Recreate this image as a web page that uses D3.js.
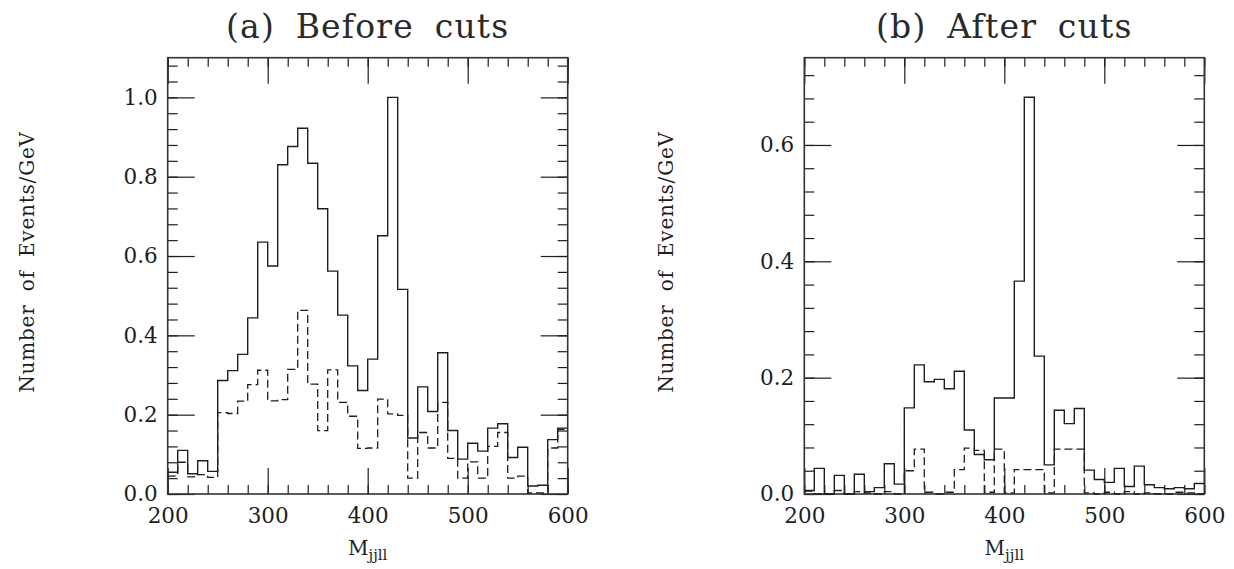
<!DOCTYPE html>
<html><head><meta charset="utf-8">
<script src="https://cdn.jsdelivr.net/npm/d3@7"></script>
<style>
body{margin:0;background:#fff;}
svg text{font-family:"DejaVu Serif",serif;fill:#1e1e1e;}
</style></head><body>
<svg id="c" width="1234" height="569"></svg>
<script>
// bin lower edges (GeV), 10 GeV wide
const binStarts = [200,210,220,230,240,250,260,270,280,290,300,310,320,330,340,350,360,370,380,390,
                   400,410,420,430,440,450,460,470,480,490,500,510,520,530,540,550,560,570,580,590];
const binWidth = 10;

const beforeSolid = [0.055,0.110,0.051,0.084,0.057,0.286,0.311,0.352,0.444,0.635,
                     0.575,0.830,0.876,0.922,0.834,0.719,0.562,0.451,0.323,0.261,
                     0.340,0.651,1.000,0.516,0.141,0.270,0.208,0.356,0.160,0.088,
                     0.128,0.108,0.166,0.177,0.092,0.118,0.020,0.022,0.137,0.166];
const beforeDashed = [0.045,0.080,0.043,0.049,0.042,0.205,0.203,0.234,0.276,0.312,
                      0.235,0.238,0.314,0.463,0.277,0.160,0.313,0.231,0.196,0.115,
                      0.116,0.239,0.202,0.198,0.040,0.155,0.116,0.231,0.090,0.040,
                      0.081,0.040,0.120,0.155,0.040,0.045,0.003,0.003,0.116,0.163];
const afterSolid = [0.006,0.044,0.000,0.032,0.000,0.034,0.004,0.011,0.052,0.017,
                    0.148,0.222,0.193,0.197,0.181,0.211,0.110,0.068,0.059,0.165,
                    0.165,0.366,0.682,0.237,0.050,0.144,0.121,0.147,0.041,0.025,
                    0.020,0.044,0.013,0.048,0.016,0.011,0.009,0.011,0.009,0.018];
const afterDashed = [0.005,0.000,0.000,0.006,0.000,0.004,0.002,0.000,0.004,0.000,
                     0.040,0.077,0.003,0.000,0.003,0.042,0.079,0.075,0.003,0.077,
                     0.002,0.042,0.042,0.042,0.002,0.077,0.077,0.077,0.002,0.000,
                     0.003,0.000,0.004,0.000,0.002,0.000,0.000,0.003,0.002,0.000];

const xMajorTicks = [200,300,400,500,600];
const titles = ["(a) Before cuts","(b) After cuts"];
const yLabel = "Number of Events/GeV";

const panels = [
  {title:titles[0], solid:beforeSolid, dashed:beforeDashed, yMax:1.1, yMajor:[0,0.2,0.4,0.6,0.8,1.0], left:167.7, labelX:27},
  {title:titles[1], solid:afterSolid, dashed:afterDashed, yMax:0.75, yMajor:[0,0.2,0.4,0.6], left:804.3, labelX:666}
];

const svg = d3.select("#c");
const plotTop = 57.7, plotBottom = 494, plotWidth = 400;
const ink = "#1e1e1e";

panels.forEach(p => {
  const x = d3.scaleLinear().domain([200,600]).range([p.left, p.left+plotWidth]);
  const y = d3.scaleLinear().domain([0,p.yMax]).range([plotBottom, plotTop]);
  const g = svg.append("g");

  const xMinor = d3.range(200, 601, 20);
  const yMinor = d3.range(0, p.yMax+1e-9, 0.04);

  function styleAxis(sel){
    sel.select(".domain").remove();
    sel.selectAll(".tick line").attr("stroke", ink).attr("stroke-width", 1.2);
  }
  // bottom
  g.append("g").attr("transform",`translate(0,${plotBottom})`)
    .call(d3.axisBottom(x).tickValues(xMinor).tickSize(-9).tickFormat("")).call(styleAxis);
  g.append("g").attr("transform",`translate(0,${plotBottom})`)
    .call(d3.axisBottom(x).tickValues(xMajorTicks).tickSize(-26).tickFormat(d3.format("d")))
    .call(styleAxis)
    .call(s=>s.selectAll(".tick text").attr("y",14).attr("dy","0.71em").attr("font-size",21.5).style("font-family","DejaVu Serif"));
  // top
  g.append("g").attr("transform",`translate(0,${plotTop})`)
    .call(d3.axisTop(x).tickValues(xMinor).tickSize(-9).tickFormat("")).call(styleAxis);
  g.append("g").attr("transform",`translate(0,${plotTop})`)
    .call(d3.axisTop(x).tickValues(xMajorTicks).tickSize(-26).tickFormat("")).call(styleAxis);
  // left
  g.append("g").attr("transform",`translate(${p.left},0)`)
    .call(d3.axisLeft(y).tickValues(yMinor).tickSize(-10).tickFormat("")).call(styleAxis);
  g.append("g").attr("transform",`translate(${p.left},0)`)
    .call(d3.axisLeft(y).tickValues(p.yMajor).tickSize(-27).tickFormat(d3.format(".1f")))
    .call(styleAxis)
    .call(s=>s.selectAll(".tick text").attr("x",-10).attr("font-size",21.5).style("font-family","DejaVu Serif"));
  // right
  g.append("g").attr("transform",`translate(${p.left+plotWidth},0)`)
    .call(d3.axisRight(y).tickValues(yMinor).tickSize(-10).tickFormat("")).call(styleAxis);
  g.append("g").attr("transform",`translate(${p.left+plotWidth},0)`)
    .call(d3.axisRight(y).tickValues(p.yMajor).tickSize(-27).tickFormat("")).call(styleAxis);

  // frame
  g.append("rect").attr("x",p.left).attr("y",plotTop).attr("width",plotWidth).attr("height",plotBottom-plotTop)
    .attr("fill","none").attr("stroke","#333").attr("stroke-width",1.6);

  const line = d3.line().x(d=>x(d[0])).y(d=>y(d[1]));
  const steps = vals => binStarts.flatMap((b,i)=>[[b,vals[i]],[b+binWidth,vals[i]]]);

  g.append("path").attr("d", line(steps(p.dashed))).attr("fill","none")
    .attr("stroke",ink).attr("stroke-width",1.3).attr("stroke-dasharray","8,4");
  g.append("path").attr("d", line(steps(p.solid))).attr("fill","none")
    .attr("stroke",ink).attr("stroke-width",1.4);

  // title
  g.append("text").attr("x", p.left+plotWidth/2).attr("y", 38).attr("text-anchor","middle")
    .attr("font-size",33).style("fill","#2a2a2a").style("word-spacing","9px").style("letter-spacing","1.2px").text(p.title);

  // x label
  const xl = g.append("text").attr("x", p.left+plotWidth/2).attr("y", 555).attr("text-anchor","middle").attr("font-size",20);
  xl.append("tspan").text("M");
  xl.append("tspan").attr("font-size",15).attr("dy",5).text("jjll");

  // y label
  g.append("text").attr("transform",`translate(${p.labelX},262) rotate(-90)`)
    .attr("text-anchor","middle").attr("dominant-baseline","central")
    .attr("font-size",20).style("word-spacing","6px").style("letter-spacing","0.8px").text(yLabel);
});
</script>
</body></html>
